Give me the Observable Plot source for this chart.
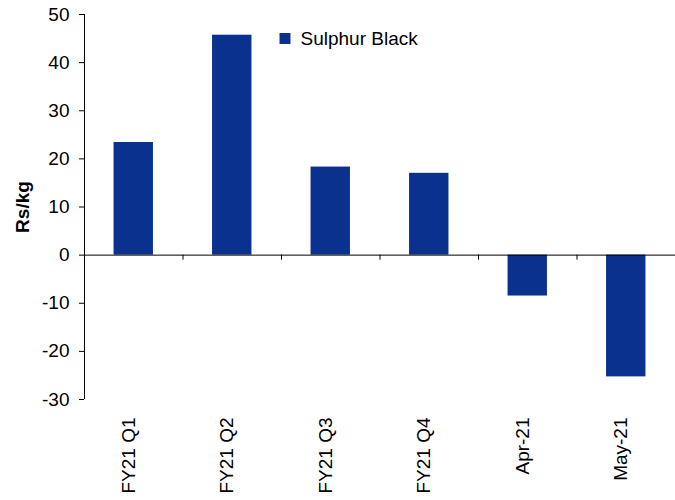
<!DOCTYPE html>
<html>
<head>
<meta charset="utf-8">
<script src="https://cdn.jsdelivr.net/npm/d3@7"></script>
<script src="https://cdn.jsdelivr.net/npm/@observablehq/plot@0.6"></script>
<style>
  html, body { margin: 0; padding: 0; background: #fff; }
</style>
</head>
<body>
<div id="chart"></div>
<script>
const categories = ["FY21 Q1", "FY21 Q2", "FY21 Q3", "FY21 Q4", "Apr-21", "May-21"];
const values = [23.4, 45.7, 18.3, 17.0, -8.5, -25.3];
const seriesName = "Sulphur Black";
const yTicks = [-30, -20, -10, 0, 10, 20, 30, 40, 50];
const yLabel = "Rs/kg";

const data = categories.map((c, i) => ({category: c, value: values[i]}));

const W = 675, H = 500;
const mL = 84, mR = 0, mT = 14, mB = 101;
const step = (W - mL - mR) / categories.length;
const barColor = "#0b318f";

const chart = Plot.plot({
  width: W,
  height: H,
  marginLeft: mL,
  marginRight: mR,
  marginTop: mT,
  marginBottom: mB,
  style: {fontFamily: "'Liberation Sans', Arial, sans-serif", fontSize: "19px", color: "#000", background: "#fff"},
  x: {domain: categories, paddingInner: 0.6, paddingOuter: 0.3, round: false},
  y: {domain: [-30, 50]},
  marks: [
    Plot.barY(data, {x: "category", y: "value", fill: barColor}),
    Plot.ruleY([0], {stroke: "#000", strokeWidth: 1}),
    Plot.ruleX(categories.slice(1), {y1: 0, y2: -1.05, dx: -step / 2, stroke: "#000"}),
    Plot.ruleX([categories[0]], {y1: -30, y2: 50, dx: -step / 2, stroke: "#000"}),
    Plot.axisY({ticks: yTicks, tickFormat: d => String(d), tickSize: 5, tickPadding: 10, label: null, fontSize: 19, stroke: "#000"}),
    Plot.axisX({tickSize: 0, tickRotate: -90, tickPadding: 18, dx: -5, label: null, fontSize: 19}),
    Plot.text([yLabel], {text: d => d, frameAnchor: "left", textAnchor: "middle", lineAnchor: "middle", rotate: -90, dx: -62, fontWeight: "bold", fontSize: 19}),
    Plot.dot([seriesName], {frameAnchor: "top-left", dx: 200.5, dy: 24, symbol: "square", r: 6.2, fill: barColor, stroke: null}),
    Plot.text([seriesName], {text: d => d, frameAnchor: "top-left", dx: 216, dy: 24, textAnchor: "start", lineAnchor: "middle", fontSize: 19})
  ]
});
document.getElementById("chart").appendChild(chart);
</script>
</body>
</html>
